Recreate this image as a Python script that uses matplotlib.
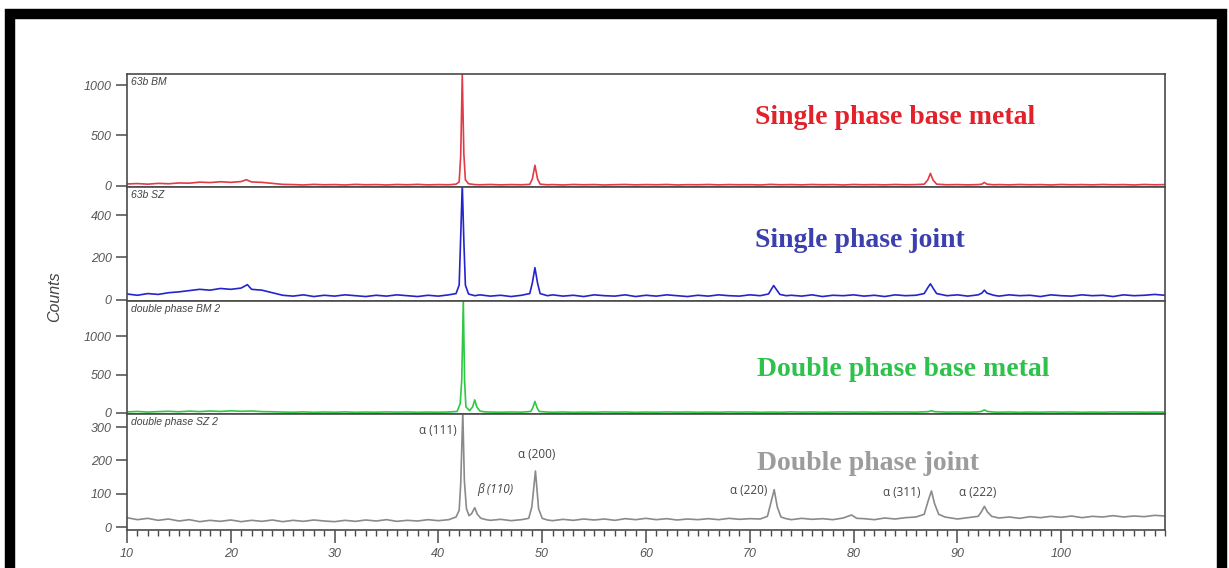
import matplotlib
matplotlib.use("Agg")
import matplotlib.pyplot as plt
from matplotlib.patches import Rectangle
from matplotlib.ticker import MultipleLocator

# ---------------- data (2-theta in degrees, counts) ----------------
sp_bm_x = [10, 11, 12, 13, 14, 15, 16, 17, 18, 19, 20, 21, 21.5, 22, 23, 24, 25, 26, 27, 28, 29, 30,
           31, 32, 33, 34, 35, 36, 37, 38, 39, 40, 41, 41.7, 42.0, 42.15, 42.3, 42.45, 42.6, 42.9,
           43.5, 44, 45, 46, 47, 48, 48.8, 49.05, 49.3, 49.55, 49.8, 50.5, 51, 52, 53, 54, 55, 56,
           57, 58, 59, 60, 61, 62, 63, 64, 65, 66, 67, 68, 69, 70, 71, 72, 73, 74, 75, 76, 77, 78,
           79, 80, 81, 82, 83, 84, 85, 86, 86.8, 87.15, 87.4, 87.65, 88.0, 89, 90, 91, 92, 92.35,
           92.6, 92.85, 93.5, 94, 95, 96, 97, 98, 99, 100, 101, 102, 103, 104, 105, 106, 107, 108,
           109, 110]
sp_bm_y = [20, 24, 18, 26, 22, 30, 28, 38, 34, 42, 36, 44, 62, 40, 36, 26, 16, 14, 10, 16, 12, 14,
           10, 16, 12, 14, 10, 15, 12, 16, 11, 14, 12, 18, 40, 300, 1105, 320, 60, 22,
           14, 12, 15, 11, 14, 12, 16, 70, 205, 70, 18, 12, 14, 10, 15, 12, 14, 10,
           13, 15, 11, 14, 12, 15, 10, 13, 12, 15, 11, 14, 12, 13, 10, 16, 12, 14, 11, 15, 12, 14,
           10, 15, 12, 14, 11, 15, 12, 14, 18, 60, 125, 60, 18, 12, 14, 11, 14, 18,
           35, 18, 12, 14, 11, 15, 12, 14, 10, 15, 12, 14, 11, 15, 12, 14, 10, 15,
           12, 14]

sp_sz_x = [10, 11, 12, 13, 14, 15, 16, 17, 18, 19, 20, 21, 21.6, 22, 23, 24, 25, 26, 27, 28, 29, 30,
           31, 32, 33, 34, 35, 36, 37, 38, 39, 40, 41, 41.7, 42.0, 42.15, 42.3, 42.45, 42.6, 42.9,
           43.5, 44, 45, 46, 47, 48, 48.8, 49.05, 49.3, 49.55, 49.8, 50.5, 51, 52, 53, 54, 55, 56,
           57, 58, 59, 60, 61, 62, 63, 64, 65, 66, 67, 68, 69, 70, 71, 71.8, 72.1, 72.3, 72.55, 72.9,
           73.5, 74, 75, 76, 77, 78, 79, 80, 81, 82, 83, 84, 85, 86, 86.8, 87.15, 87.4, 87.65, 88.0,
           89, 90, 91, 92, 92.35, 92.6, 92.85, 93.5, 94, 95, 96, 97, 98, 99, 100, 101, 102, 103,
           104, 105, 106, 107, 108, 109, 110]
sp_sz_y = [28, 22, 30, 26, 34, 38, 44, 50, 46, 54, 50, 56, 72, 50, 46, 34, 22, 18, 24, 16, 22, 18,
           24, 20, 16, 22, 18, 24, 20, 16, 22, 18, 24, 30, 70, 300, 545, 280, 70, 28,
           20, 24, 18, 22, 16, 22, 30, 80, 152, 80, 30, 20, 24, 18, 22, 16, 24, 20,
           18, 24, 16, 22, 18, 24, 20, 16, 22, 18, 24, 20, 18, 24, 20, 28, 52, 68, 50, 26,
           20, 22, 18, 24, 16, 22, 20, 24, 18, 22, 16, 24, 20, 22, 30, 58, 76, 56, 30,
           20, 24, 18, 24, 32, 46, 32, 22, 18, 24, 20, 22, 16, 24, 20, 18, 24, 20,
           22, 16, 24, 20, 22, 26, 22]

dp_bm_x = [10, 11, 12, 13, 14, 15, 16, 17, 18, 19, 20, 21, 22, 23, 24, 25, 26, 27, 28, 29, 30,
           31, 32, 33, 34, 35, 36, 37, 38, 39, 40, 41, 41.8, 42.1, 42.25, 42.4, 42.52, 42.65, 43.0,
           43.3, 43.5, 43.7, 44.0, 44.5, 45, 46, 47, 48, 48.9, 49.1, 49.3, 49.5, 49.7, 50.5, 51,
           52, 53, 54, 55, 56, 57, 58, 59, 60, 61, 62, 63, 64, 65, 66, 67, 68, 69, 70, 71, 72, 73,
           74, 75, 76, 77, 78, 79, 80, 81, 82, 83, 84, 85, 86, 87.2, 87.5, 87.8, 89, 90, 91, 92,
           92.3, 92.6, 92.9, 93.5, 94, 95, 96, 97, 98, 99, 100, 101, 102, 103, 104, 105, 106, 107,
           108, 109, 110]
dp_bm_y = [14, 20, 12, 18, 22, 16, 24, 18, 26, 20, 28, 22, 26, 18, 16, 12, 10, 14, 9, 13, 10,
           14, 9, 12, 10, 14, 11, 13, 9, 12, 10, 13, 20, 120, 430, 1460, 430, 80, 30,
           80, 170, 80, 25, 14, 12, 10, 13, 11, 20, 70, 150, 70, 20, 12, 10,
           13, 9, 12, 10, 14, 11, 13, 9, 12, 10, 14, 11, 13, 9, 12, 10, 14, 11, 13, 9, 12, 10,
           14, 11, 13, 10, 12, 14, 11, 13, 10, 14, 12, 13, 11, 18, 30, 18, 11, 13, 10, 14,
           20, 40, 20, 12, 10, 13, 9, 12, 10, 14, 11, 13, 9, 12, 10, 14, 11, 13,
           10, 12, 11]

dp_sz_x = [10, 11, 12, 13, 14, 15, 16, 17, 18, 19, 20, 21, 22, 23, 24, 25, 26, 27, 28, 29, 30,
           31, 32, 33, 34, 35, 36, 37, 38, 39, 40, 41, 41.7, 42.0, 42.15, 42.35, 42.5, 42.7, 42.95,
           43.2, 43.5, 43.75, 44.1, 44.6, 45, 46, 47, 48, 48.7, 49.0, 49.35, 49.65, 50.0, 50.5, 51,
           52, 53, 54, 55, 56, 57, 58, 59, 60, 61, 62, 63, 64, 65, 66, 67, 68, 69, 70, 71, 71.7,
           72.05, 72.35, 72.65, 73.0, 73.5, 74, 75, 76, 77, 78, 79, 79.8, 80.3, 81, 82, 83, 84, 85,
           86, 86.8, 87.2, 87.5, 87.8, 88.2, 88.8, 90, 91, 92, 92.3, 92.6, 92.9, 93.3, 94, 95, 96,
           97, 98, 99, 100, 101, 102, 103, 104, 105, 106, 107, 108, 109, 110]
dp_sz_y = [28, 22, 26, 20, 24, 18, 22, 16, 20, 17, 21, 16, 20, 17, 21, 16, 20, 17, 21, 18, 16,
           20, 17, 21, 18, 22, 17, 20, 18, 22, 19, 22, 30, 50, 130, 345, 140, 55, 34,
           40, 58, 38, 26, 22, 20, 23, 19, 22, 26, 60, 168, 55, 26, 21, 19,
           23, 20, 24, 21, 24, 20, 25, 22, 26, 22, 25, 21, 24, 22, 25, 22, 26, 23, 25, 24, 32,
           75, 112, 60, 30, 25, 22, 26, 23, 25, 22, 27, 36, 26, 25, 22, 27, 24, 28,
           30, 38, 80, 108, 70, 38, 30, 24, 28, 32, 45, 62, 45, 32, 27, 30, 26,
           31, 28, 32, 29, 33, 28, 32, 30, 34, 30, 33, 31, 35, 33]

panel_names = ["63b BM", "63b SZ", "double phase BM 2", "double phase SZ 2"]
panel_titles = ["Single phase base metal", "Single phase joint",
                "Double phase base metal", "Double phase joint"]
panel_yticks = [[0, 500, 1000], [0, 200, 400], [0, 500, 1000], [0, 100, 200, 300]]
x_ticks = [10, 20, 30, 40, 50, 60, 70, 80, 90, 100]

peak_labels = ["α (111)", "β (110)", "α (200)", "α (220)", "α (311)", "α (222)"]

# ---------------- figure ----------------
W, H = 1229, 568
fig = plt.figure(figsize=(W / 100, H / 100), dpi=100)
plt.rcParams['font.family'] = ['Liberation Sans', 'DejaVu Sans']


def fx(px):
    return px / W


def fy(py):
    return 1 - py / H


left_px, right_px = 127, 1165
bounds_px = [(74, 187), (187, 301), (301, 414), (414, 530)]
ylims = [(-10, 1109), (-5, 532), (-13, 1455), (-9, 339)]
series = [(sp_bm_x, sp_bm_y), (sp_sz_x, sp_sz_y), (dp_bm_x, dp_bm_y), (dp_sz_x, dp_sz_y)]
line_colors = ['#e23a46', '#2424cc', '#2ec843', '#8a8a8a']
text_colors = ['#e2212b', '#3c3fae', '#2ec24d', '#9c9c9c']
title_pos = [(755, 117), (755, 241), (757, 369), (757, 463)]
spine_col = '#4a4a4a'
tick_lab_col = '#555555'

axes = []
for i in range(4):
    top, bot = bounds_px[i]
    ax = fig.add_axes([fx(left_px), fy(bot), fx(right_px - left_px), (bot - top) / H])
    xs, ys = series[i]
    ax.plot(xs, ys, color=line_colors[i], lw=1.2, clip_on=True)
    ax.set_xlim(10, 110)
    ax.set_ylim(*ylims[i])
    ax.set_yticks(panel_yticks[i])
    ax.tick_params(axis='y', direction='out', length=8, width=1.1, color=spine_col,
                   labelsize=9, labelcolor=tick_lab_col, pad=3)
    for lab in ax.get_yticklabels():
        lab.set_fontstyle('italic')
    for s in ax.spines.values():
        s.set_color(spine_col)
        s.set_linewidth(1.2)
    if i < 3:
        ax.tick_params(axis='x', bottom=False, labelbottom=False)
    else:
        ax.set_xticks(x_ticks)
        ax.xaxis.set_minor_locator(MultipleLocator(1))
        ax.tick_params(axis='x', which='major', direction='out', length=9, width=1.1,
                       color=spine_col, labelsize=9, labelcolor=tick_lab_col, pad=4)
        ax.tick_params(axis='x', which='minor', direction='out', length=4, width=1.0,
                       color=spine_col)
        for lab in ax.get_xticklabels():
            lab.set_fontstyle('italic')
    ax.text(0.004, 0.975, panel_names[i], transform=ax.transAxes, ha='left', va='top',
            fontsize=7.5, style='italic', color='#444444')
    fig.text(fx(title_pos[i][0]), fy(title_pos[i][1]), panel_titles[i],
             family=['Liberation Serif', 'DejaVu Serif'], fontweight='bold', fontsize=20,
             color=text_colors[i], ha='left', va='center')
    axes.append(ax)

# peak labels in the bottom panel (pixel positions of label centres)
peak_label_pos = [(438, 431), (495, 490), (537, 455), (749, 490), (902, 492), (978, 493)]
for lab, (px, py) in zip(peak_labels, peak_label_pos):
    style = 'italic' if lab.startswith('β') else 'normal'
    fig.text(fx(px), fy(py), lab, fontsize=8.5, color='#444444', ha='center', va='center',
             style=style, family=['Open Sans', 'DejaVu Sans'])

fig.text(fx(55), fy(297), "Counts", rotation=90, fontsize=11.5, style='italic',
         color='#444444', ha='center', va='center')

# outer black frame
fig.patches.append(Rectangle((fx(10), fy(575)), fx(1222 - 10), (575 - 14) / H,
                             transform=fig.transFigure, fill=False, edgecolor='black',
                             linewidth=7.5, zorder=10))

fig.savefig("out.png", dpi=100)
